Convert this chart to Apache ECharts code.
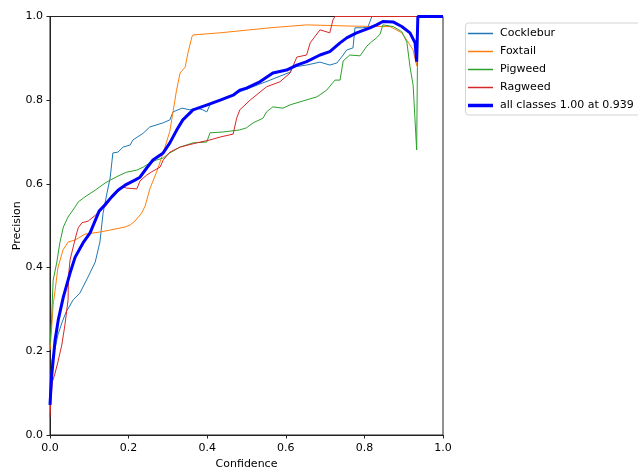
<!DOCTYPE html>
<html>
<head>
<meta charset="utf-8">
<script src="https://cdn.jsdelivr.net/npm/echarts@6/dist/echarts.min.js"></script>
<style>
html,body{margin:0;padding:0;background:#fff;}
#chart{width:638px;height:471px;}
</style>
</head>
<body>
<div id="chart"></div>
<script>
const xTicks = [0, 0.2, 0.4, 0.6, 0.8, 1.0];
const yTicks = [0, 0.2, 0.4, 0.6, 0.8, 1.0];

const cockleburConf = [0,0.005,0.013,0.020,0.031,0.041,0.059,0.076,0.097,0.115,0.127,0.135,0.145,0.153,0.160,0.173,0.186,0.204,0.211,0.237,0.254,0.288,0.305,0.313,0.336,0.356,0.374,0.389,0.399,0.407,0.483,0.560,0.611,0.618,0.653,0.687,0.712,0.730,0.746,0.755,0.771,0.776,0.796,0.809,0.819,1.0];
const cockleburPrec = [0.096,0.179,0.208,0.239,0.270,0.294,0.323,0.339,0.378,0.413,0.461,0.530,0.578,0.614,0.674,0.676,0.688,0.693,0.705,0.721,0.736,0.746,0.753,0.772,0.781,0.777,0.781,0.777,0.772,0.789,0.820,0.848,0.867,0.879,0.884,0.891,0.884,0.889,0.908,0.920,0.925,0.973,0.973,0.975,1.0,1.0];

const foxtailConf = [0,0.004,0.008,0.013,0.020,0.033,0.046,0.064,0.089,0.127,0.155,0.191,0.204,0.216,0.233,0.242,0.254,0.271,0.288,0.305,0.313,0.322,0.331,0.344,0.351,0.361,0.364,0.433,0.560,0.653,0.771,0.865,0.895,0.911,0.924,0.933,0.936,1.0];
const foxtailPrec = [0.203,0.251,0.311,0.346,0.399,0.442,0.461,0.466,0.480,0.485,0.490,0.497,0.502,0.511,0.530,0.547,0.588,0.628,0.674,0.726,0.772,0.824,0.865,0.879,0.913,0.951,0.956,0.961,0.973,0.980,0.977,0.976,0.961,0.939,0.920,0.882,1.0,1.0];

const pigweedConf = [0,0.004,0.008,0.017,0.025,0.034,0.046,0.064,0.072,0.089,0.115,0.140,0.153,0.178,0.195,0.221,0.237,0.254,0.271,0.288,0.305,0.331,0.364,0.399,0.407,0.440,0.483,0.500,0.517,0.542,0.551,0.567,0.593,0.611,0.636,0.679,0.704,0.725,0.738,0.746,0.763,0.789,0.806,0.819,0.831,0.840,0.847,0.873,0.895,0.908,0.916,0.924,0.933,0.936,1.0];
const pigweedPrec = [0.215,0.275,0.370,0.411,0.459,0.497,0.521,0.545,0.557,0.569,0.585,0.602,0.609,0.621,0.628,0.633,0.640,0.650,0.657,0.662,0.674,0.688,0.698,0.700,0.722,0.724,0.729,0.734,0.746,0.757,0.772,0.784,0.781,0.789,0.796,0.808,0.824,0.848,0.848,0.894,0.908,0.906,0.929,0.940,0.949,0.958,0.980,0.976,0.964,0.939,0.880,0.836,0.681,1.0,1.0];

const ragweedConf = [0,0.003,0.006,0.013,0.020,0.030,0.038,0.046,0.047,0.051,0.059,0.068,0.072,0.076,0.081,0.097,0.119,0.127,0.140,0.153,0.170,0.186,0.195,0.221,0.229,0.246,0.259,0.280,0.288,0.305,0.331,0.373,0.407,0.433,0.466,0.475,0.483,0.509,0.551,0.585,0.611,0.628,0.653,0.662,0.687,0.712,0.720,0.725,1.0];
const ragweedPrec = [0.043,0.096,0.127,0.148,0.174,0.215,0.263,0.323,0.378,0.418,0.449,0.483,0.495,0.497,0.507,0.511,0.528,0.538,0.545,0.562,0.578,0.593,0.590,0.588,0.607,0.621,0.629,0.640,0.657,0.676,0.688,0.698,0.705,0.712,0.719,0.757,0.777,0.800,0.832,0.844,0.865,0.903,0.908,0.937,0.968,0.961,0.992,1.0,1.0];

const allConf = [0,0.004,0.013,0.021,0.034,0.051,0.064,0.084,0.102,0.125,0.140,0.157,0.173,0.191,0.216,0.229,0.246,0.262,0.288,0.305,0.322,0.338,0.364,0.400,0.433,0.466,0.483,0.500,0.534,0.567,0.602,0.628,0.653,0.687,0.712,0.738,0.755,0.780,0.814,0.831,0.847,0.873,0.895,0.916,0.929,0.933,0.936,1.0];
const allPrec = [0.072,0.139,0.227,0.275,0.330,0.387,0.425,0.459,0.483,0.535,0.550,0.569,0.585,0.597,0.609,0.616,0.638,0.657,0.674,0.698,0.728,0.753,0.777,0.789,0.800,0.812,0.824,0.829,0.844,0.865,0.872,0.884,0.892,0.908,0.916,0.937,0.949,0.961,0.973,0.980,0.988,0.987,0.976,0.961,0.937,0.892,1.0,1.0];

const classNames = ['Cocklebur', 'Foxtail', 'Pigweed', 'Ragweed'];
const allName = 'all classes 1.00 at 0.939';

function zip(xs, ys) { return xs.map((x, i) => [x, ys[i]]); }

const FONT = 'DejaVu Sans';
const chart = echarts.init(document.getElementById('chart'), null, {renderer: 'canvas'});

function thin(name, xs, ys, color) {
  return {
    name: name, type: 'line', data: zip(xs, ys), showSymbol: false, symbol: 'none',
    lineStyle: {width: 1, color: color}, itemStyle: {color: color},
    animation: false, z: 2
  };
}

chart.setOption({
  animation: false,
  backgroundColor: '#fff',
  grid: {left: 50, right: 195, top: 16.5, bottom: 36, show: true, borderColor: '#222', borderWidth: 1,
         backgroundColor: 'transparent', containLabel: false, outerBoundsMode: 'none'},
  xAxis: {
    type: 'value', min: 0, max: 1, interval: 0.2,
    name: 'Confidence', nameLocation: 'middle', nameGap: 24, nameMoveOverlap: false,
    nameTextStyle: {fontFamily: FONT, fontSize: 11, color: '#000'},
    axisLine: {show: true, lineStyle: {color: '#222', width: 1}},
    axisTick: {show: true, inside: false, length: 3.5, lineStyle: {color: '#222'}},
    axisLabel: {fontFamily: FONT, fontSize: 11, color: '#000', margin: 8, formatter: v => v.toFixed(1)},
    splitLine: {show: false}
  },
  yAxis: {
    type: 'value', min: 0, max: 1, interval: 0.2,
    name: 'Precision', nameLocation: 'middle', nameGap: 27, nameMoveOverlap: false,
    nameTextStyle: {fontFamily: FONT, fontSize: 11, color: '#000'},
    axisLine: {show: true, lineStyle: {color: '#222', width: 1}},
    axisTick: {show: true, inside: false, length: 3.5, lineStyle: {color: '#222'}},
    axisLabel: {fontFamily: FONT, fontSize: 11, color: '#000', margin: 7, formatter: v => v.toFixed(1)},
    splitLine: {show: false}
  },
  legend: [
    {
      data: classNames, orient: 'vertical', left: 468, top: 26.5,
      icon: 'rect', itemWidth: 25, itemHeight: 1.5, itemGap: 4,
      textStyle: {fontFamily: FONT, fontSize: 11, color: '#000', lineHeight: 14, padding: [0, 0, 0, 2]},
      selectedMode: false, padding: 0
    },
    {
      data: [allName], orient: 'vertical', left: 468, top: 98.5,
      icon: 'rect', itemWidth: 25, itemHeight: 3.5, itemGap: 4,
      textStyle: {fontFamily: FONT, fontSize: 11, color: '#000', lineHeight: 14, padding: [0, 0, 0, 2]},
      selectedMode: false, padding: 0
    }
  ],
  graphic: [{
    type: 'rect', left: 465, top: 22.5, z: -1,
    shape: {width: 180, height: 92, r: 3},
    style: {fill: '#fff', stroke: '#d4d4d4', lineWidth: 1}
  }],
  series: [
    thin(classNames[0], cockleburConf, cockleburPrec, '#1f77b4'),
    thin(classNames[1], foxtailConf, foxtailPrec, '#ff7f0e'),
    thin(classNames[2], pigweedConf, pigweedPrec, '#2ca02c'),
    thin(classNames[3], ragweedConf, ragweedPrec, '#d62728'),
    {
      name: allName, type: 'line', data: zip(allConf, allPrec), showSymbol: false, symbol: 'none',
      lineStyle: {width: 3, color: '#0000ff'}, itemStyle: {color: '#0000ff'}, z: 3
    }
  ]
});
</script>
</body>
</html>
